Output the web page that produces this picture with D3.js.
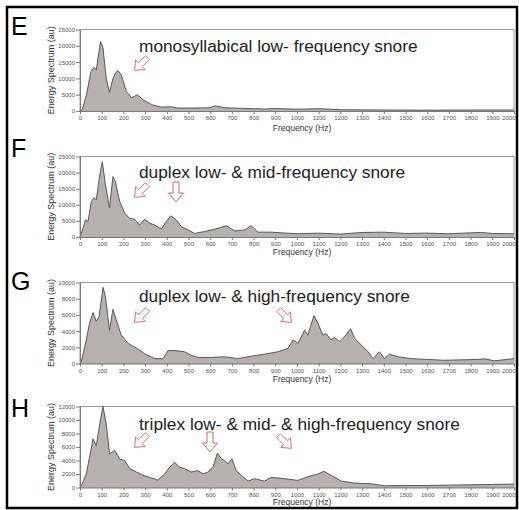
<!DOCTYPE html>
<html>
<head>
<meta charset="utf-8">
<script src="https://cdn.jsdelivr.net/npm/d3@7"></script>
<style>
  body { margin: 0; background: #fff; }
  svg { display: block; font-family: "Liberation Sans", Arial, sans-serif; }
</style>
</head>
<body>
<svg></svg>
<script>
// spectra (Hz, au)
const eFreq = [0,10,30,50,65,75,83,95,106,121,136,152,165,175,190,214,237,264,290,330,375,420,450,530,600,620,666,750,850,900,1000,1100,1200,1400,1600,1800,2000];
const eEnergy = [0,400,5000,12000,13400,12600,16200,21300,19300,10000,5700,10000,11800,12400,11100,6000,4000,5000,3500,1900,1200,1300,900,900,1000,1600,1000,800,600,750,550,700,400,300,250,300,300];

const fFreq = [0,14,25,37,52,65,75,91,103,117,136,152,163,183,206,229,252,275,298,321,344,375,398,418,444,467,498,528,574,636,674,713,759,789,820,881,950,1000,1100,1200,1300,1400,1500,1600,1700,1800,1850,1900,2000];
const fEnergy = [0,2700,5300,4800,11000,12200,11500,19300,23400,16200,9100,18800,17200,11000,7400,5800,5500,3700,5500,4300,3700,2500,4800,6600,5300,3200,2200,1100,1700,2700,3500,1900,2200,3500,1500,1500,1200,1000,1200,900,1400,1500,1100,1200,1000,1300,1400,1100,1000];

const gFreq = [0,6,29,44,60,75,88,106,117,136,152,167,190,221,260,298,344,383,406,436,482,513,544,605,666,727,789,850,912,958,981,1004,1035,1050,1078,1096,1119,1134,1157,1173,1196,1219,1247,1265,1296,1327,1350,1380,1403,1426,1465,1526,1600,1680,1760,1833,1864,1910,2000];
const gEnergy = [0,200,2900,5000,6300,5200,5800,9400,8300,4100,6700,5400,3500,2500,1900,1200,600,600,1600,1600,1450,1000,750,750,830,600,900,1150,1450,1850,2900,2500,4100,3500,5900,5000,3500,3700,2900,3200,2700,3300,4300,3100,2300,1450,600,1450,600,1150,830,600,500,400,450,500,580,330,600];

const hFreq = [0,14,29,44,60,75,91,106,121,136,160,183,206,229,260,290,321,359,390,413,436,459,482,513,544,567,590,613,633,651,666,682,700,720,743,774,805,850,881,943,1004,1050,1096,1124,1157,1204,1265,1342,1403,1500,1600,1700,1800,1900,2000];
const hEnergy = [0,800,2000,4500,7200,6200,9400,12000,9400,5000,5500,4200,4000,2800,2300,1800,1500,1100,2000,3000,3750,3000,2800,2300,2500,2000,2300,3000,5100,4250,4000,3500,4250,2500,1800,950,1300,950,1500,1300,1050,1600,2000,2400,1800,950,650,550,250,300,300,350,400,450,500];

// tick labels
const freqTicks = d3.range(0, 2001, 100);
const eTicks = [0,5000,10000,15000,20000,25000];
const fTicks = [0,5000,10000,15000,20000,25000];
const gTicks = [0,2000,4000,6000,8000,10000];
const hTicks = [0,2000,4000,6000,8000,10000,12000];

const letters = ["E", "F", "G", "H"];
const notes = [
  "monosyllabical low- frequency snore",
  "duplex low- & mid-frequency snore",
  "duplex low- & high-frequency snore",
  "triplex low- & mid- & high-frequency snore"
];

// layout of the four panels
const panels = [
  { freq: eFreq, energy: eEnergy, ticks: eTicks, top: 29.5, bottom: 111, letterY: 35, noteY: 52, xLabelY: 131,
    arrows: [[141, 64, 45]] },
  { freq: fFreq, energy: fEnergy, ticks: fTicks, top: 156.5, bottom: 237, letterY: 157, noteY: 178, xLabelY: 255,
    arrows: [[141, 191, 45], [176, 192, 0]] },
  { freq: gFreq, energy: gEnergy, ticks: gTicks, top: 282.5, bottom: 363.5, letterY: 290, noteY: 302, xLabelY: 382,
    arrows: [[141, 316, 45], [285, 316, -45]] },
  { freq: hFreq, energy: hEnergy, ticks: hTicks, top: 406.5, bottom: 487.5, letterY: 417, noteY: 430, xLabelY: 505,
    arrows: [[141, 441, 45], [210, 442, 0], [285, 442, -45]] }
];

const plotLeft = 80;
const plotRight = 514;

const svg = d3.select("svg")
  .attr("width", 519)
  .attr("height", 510);

svg.append("rect")
  .attr("width", 519)
  .attr("height", 510)
  .attr("fill", "#fff");

// block arrow pointing down, centred on 0,0
const arrowShape = "M-3,-10 L3,-10 L3,1 L7.5,1 L0,10 L-7.5,1 L-3,1 Z";

panels.forEach((p, i) => {
  const x = d3.scaleLinear().domain([0, 2000]).range([plotLeft, plotRight]);
  const y = d3.scaleLinear().domain([0, d3.max(p.ticks)]).range([p.bottom, p.top]);
  const pts = p.freq.map((f, k) => [f, p.energy[k]]);

  const g = svg.append("g");

  // plot frame
  g.append("rect")
    .attr("x", plotLeft)
    .attr("y", p.top)
    .attr("width", plotRight - plotLeft)
    .attr("height", p.bottom - p.top)
    .attr("fill", "none")
    .attr("stroke", "#9a9a9a")
    .attr("stroke-width", 1);

  // spectrum
  g.append("path")
    .attr("fill", "#b6b1b1")
    .attr("d", d3.area().x(d => x(d[0])).y0(p.bottom).y1(d => y(d[1]))(pts));

  g.append("path")
    .attr("fill", "none")
    .attr("stroke", "#5b5757")
    .attr("stroke-width", 1)
    .attr("d", d3.line().x(d => x(d[0])).y(d => y(d[1]))(pts));

  // y-axis
  const yAxis = g.append("g")
    .attr("transform", `translate(${plotLeft},0)`)
    .call(d3.axisLeft(y).tickValues(p.ticks).tickFormat(d3.format("d")).tickSize(4).tickPadding(1).tickSizeOuter(0));

  // x-axis
  const xAxis = g.append("g")
    .attr("transform", `translate(0,${p.bottom})`)
    .call(d3.axisBottom(x).tickValues(freqTicks).tickFormat(d3.format("d")).tickSize(3).tickPadding(2).tickSizeOuter(0));

  [yAxis, xAxis].forEach(a => {
    a.select(".domain").attr("stroke", "#7a7a7a");
    a.selectAll(".tick line").attr("stroke", "#7a7a7a");
    a.selectAll("text")
      .attr("fill", "#555")
      .attr("font-size", "6px")
      .attr("font-family", "Liberation Sans, Arial, sans-serif");
  });

  // last frequency label sits against the frame
  xAxis.selectAll(".tick text")
    .filter(d => d === 2000)
    .attr("text-anchor", "end")
    .attr("dx", 1);

  // axis titles
  g.append("text")
    .attr("transform", `translate(54,${(p.top + p.bottom) / 2}) rotate(-90)`)
    .attr("text-anchor", "middle")
    .attr("font-size", "9px")
    .attr("fill", "#333")
    .text("Energy Spectrum (au)");

  g.append("text")
    .attr("x", (plotLeft + plotRight) / 2 + 5)
    .attr("y", p.xLabelY)
    .attr("text-anchor", "middle")
    .attr("font-size", "8.5px")
    .attr("fill", "#333")
    .text("Frequency (Hz)");

  // panel letter
  g.append("text")
    .attr("x", 11)
    .attr("y", p.letterY)
    .attr("font-size", "25px")
    .attr("fill", "#000")
    .text(letters[i]);

  // annotation
  g.append("text")
    .attr("x", 139)
    .attr("y", p.noteY)
    .attr("font-size", "17.3px")
    .attr("fill", "#222")
    .text(notes[i]);

  g.selectAll(".arrow")
    .data(p.arrows).enter().append("path")
    .attr("class", "arrow")
    .attr("transform", d => `translate(${d[0]},${d[1]}) rotate(${d[2]})${d[2] ? " scale(0.9)" : ""}`)
    .attr("d", arrowShape)
    .attr("fill", "#fff")
    .attr("stroke", "#d8676a")
    .attr("stroke-width", 1);
});

// outer frame
svg.append("rect")
  .attr("x", 7)
  .attr("y", 7)
  .attr("width", 510)
  .attr("height", 501)
  .attr("fill", "none")
  .attr("stroke", "#000")
  .attr("stroke-width", 2.5);
</script>
</body>
</html>
